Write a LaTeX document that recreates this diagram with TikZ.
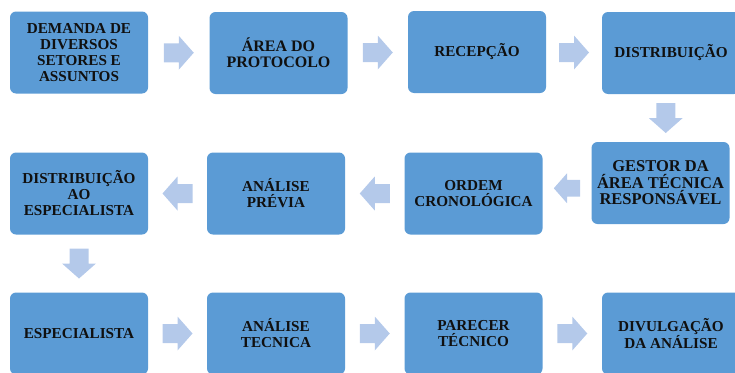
\documentclass[tikz,border=0pt]{standalone}
\usepackage{fontspec}
\setmainfont{Liberation Serif}
\usetikzlibrary{calc}
\definecolor{boxblue}{HTML}{5B9BD5}
\definecolor{arrowblue}{HTML}{B4C9EA}
\definecolor{textc}{HTML}{101010}
\tikzset{
  stepbox/.style={fill=boxblue, rounded corners=6pt, minimum width=138pt, minimum height=82pt,
    inner sep=0pt, align=center, text=textc, font=\fontsize{15.2}{16}\selectfont\bfseries},
  bigtext/.style={font=\fontsize{16.5}{16.5}\selectfont\bfseries},
  midtext/.style={font=\fontsize{16}{16}\selectfont\bfseries},
  blockarrow/.pic={\fill[arrowblue] (-15pt,-9.5pt) -- (0pt,-9.5pt) -- (0pt,-17pt) -- (15pt,0pt)
    -- (0pt,17pt) -- (0pt,9.5pt) -- (-15pt,9.5pt) -- cycle;}
}
\begin{document}
\begin{tikzpicture}[x=1pt,y=-1pt]
\useasboundingbox (0,0) rectangle (735,372);
\clip (0,0) rectangle (735,372);
\node[stepbox] (b1) at (79,52.5) {DEMANDA DE\\DIVERSOS\\SETORES E\\ASSUNTOS};
\node[stepbox, midtext] (b2) at (278.5,53) {ÁREA DO\\PROTOCOLO};
\node[stepbox] (b3) at (477,52) {RECEPÇÃO};
\node[stepbox] (b4) at (671,53) {DISTRIBUIÇÃO};
\node[stepbox, bigtext] (b5) at (660.5,183) {GESTOR DA\\ÁREA TÉCNICA\\RESPONSÁVEL};
\node[stepbox] (b6) at (473.5,193.5) {ORDEM\\CRONOLÓGICA};
\node[stepbox] (b7) at (276,193.5) {ANÁLISE\\PRÉVIA};
\node[stepbox] (b8) at (79,193.5) {DISTRIBUIÇÃO\\AO\\ESPECIALISTA};
\node[stepbox] (b9) at (79,333.5) {ESPECIALISTA};
\node[stepbox] (b10) at (276,333.5) {ANÁLISE\\TECNICA};
\node[stepbox] (b11) at (473.5,333.5) {PARECER\\TÉCNICO};
\node[stepbox] (b12) at (671,333.5) {DIVULGAÇÃO\\DA ANÁLISE};
% arrows
\pic at ($(b1.east)!0.5!(b2.west)$) {blockarrow};
\pic at ($(b2.east)!0.5!(b3.west)$) {blockarrow};
\pic at ($(b3.east)!0.5!(b4.west)$) {blockarrow};
\pic[rotate=-90] at ($(b4.south)!0.5!(b5.north)$) {blockarrow};
\pic[rotate=180, scale=0.88] at ($(b5.west)!0.5!(b6.east)$) {blockarrow};
\pic[rotate=180] at ($(b6.west)!0.5!(b7.east)$) {blockarrow};
\pic[rotate=180] at ($(b7.west)!0.5!(b8.east)$) {blockarrow};
\pic[rotate=-90] at ($(b8.south)!0.5!(b9.north)$) {blockarrow};
\pic at ($(b9.east)!0.5!(b10.west)$) {blockarrow};
\pic at ($(b10.east)!0.5!(b11.west)$) {blockarrow};
\pic at ($(b11.east)!0.5!(b12.west)$) {blockarrow};
\end{tikzpicture}
\end{document}
